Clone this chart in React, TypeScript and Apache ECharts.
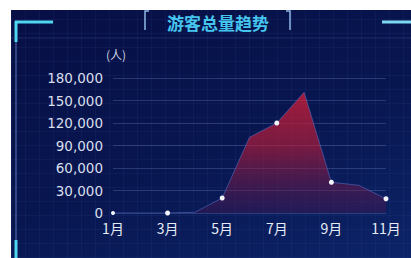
import React, { useEffect, useRef } from "react";
import * as echarts from "echarts";

const months = ["1月", "2月", "3月", "4月", "5月", "6月", "7月", "8月", "9月", "10月", "11月"];
const visitors = [0, 0, 0, 1000, 20000, 101000, 120000, 161000, 41000, 37000, 19000];
const yTicks = { min: 0, max: 180000, interval: 30000 };
const titleText = "游客总量趋势";
const unitText = "(人)";

export default function App() {
  const ref = useRef<HTMLDivElement>(null);
  useEffect(() => {
    if (!ref.current) return;
    const chart = echarts.init(ref.current, undefined, { renderer: "svg" });
    const cyan = "#4fd6f0";
    chart.setOption({
      animation: false,
      backgroundColor: "transparent",
      grid: { left: 113, right: 25, top: 78, bottom: 45 },
      graphic: [
        { type: "line", shape: { x1: 16, y1: 22, x2: 16, y2: 258 }, style: { stroke: "rgba(110,140,210,0.55)", lineWidth: 1.5 } },
        { type: "line", shape: { x1: 15, y1: 22, x2: 53, y2: 22 }, style: { stroke: cyan, lineWidth: 3 } },
        { type: "line", shape: { x1: 16, y1: 21, x2: 16, y2: 42 }, style: { stroke: cyan, lineWidth: 3 } },
        { type: "line", shape: { x1: 382, y1: 22, x2: 411, y2: 22 }, style: { stroke: "#7fd8f2", lineWidth: 3 } },
        { type: "line", shape: { x1: 16, y1: 240, x2: 16, y2: 258 }, style: { stroke: cyan, lineWidth: 3 } },
        { type: "line", shape: { x1: 11, y1: 38, x2: 411, y2: 38 }, style: { stroke: "rgba(90,110,190,0.25)", lineWidth: 1 } },
        { type: "polyline", shape: { points: [[149, 11], [145, 11], [145, 30]] }, style: { stroke: "#8fb8e8", lineWidth: 1.5, fill: null } },
        { type: "polyline", shape: { points: [[286, 11], [290, 11], [290, 30]] }, style: { stroke: "#8fb8e8", lineWidth: 1.5, fill: null } },
        {
          type: "text",
          x: 218,
          y: 22,
          style: {
            text: titleText,
            fill: "#45c4ee",
            font: "bold 17px 'Noto Sans CJK SC'",
            textAlign: "center",
            textVerticalAlign: "middle",
          },
        },
      ],
      xAxis: {
        type: "category",
        data: months,
        boundaryGap: false,
        axisLine: { show: false },
        axisTick: { show: false },
        axisLabel: { interval: 1, color: "#e6ecf5", fontSize: 14, margin: 8, fontFamily: "'Noto Sans CJK SC'" },
        splitLine: { show: false },
      },
      yAxis: {
        type: "value",
        min: yTicks.min,
        max: yTicks.max,
        interval: yTicks.interval,
        name: unitText,
        nameGap: 18,
        nameTextStyle: { color: "#c8d0e0", fontSize: 12, align: "center", padding: [0, 0, 0, 6], fontFamily: "'Noto Sans CJK SC'" },
        axisLine: { show: false },
        axisTick: { show: false },
        axisLabel: {
          color: "#d8dfec",
          fontSize: 13.5,
          margin: 10,
          fontFamily: "'DejaVu Sans', sans-serif",
          formatter: (v: number) => v.toLocaleString("en-US"),
        },
        splitLine: { lineStyle: { color: "rgba(130,150,210,0.28)", width: 1 } },
      },
      series: [
        {
          type: "line",
          data: visitors,
          showAllSymbol: true,
          symbol: "circle",
          symbolSize: (_v: number, p: any) => (p.dataIndex % 2 === 0 ? (p.dataIndex === 0 ? 4 : 5) : 0),
          itemStyle: { color: "#f2f4fa" },
          lineStyle: { color: "rgba(85,115,200,0.55)", width: 1 },
          areaStyle: {
            color: new echarts.graphic.LinearGradient(0, 0, 0, 1, [
              { offset: 0, color: "rgba(228,30,52,1)" },
              { offset: 0.45, color: "rgba(185,28,55,0.9)" },
              { offset: 1, color: "rgba(70,22,80,0.55)" },
            ]),
          },
        },
      ],
    });
    return () => chart.dispose();
  }, []);

  const panelBg =
    "repeating-linear-gradient(90deg, rgba(60,90,170,0.10) 0 1px, transparent 1px 14px)," +
    "repeating-linear-gradient(0deg, rgba(60,90,170,0.10) 0 1px, transparent 1px 14px)," +
    "linear-gradient(160deg, #070f45 0%, #081650 55%, #0c2468 100%)";

  return (
    <div style={{ position: "absolute", left: 0, top: 0, width: 411, height: 258, background: "#fff" }}>
      <div style={{ position: "absolute", left: 11, top: 10, width: 400, height: 248, background: panelBg }} />
      <div ref={ref} style={{ position: "absolute", left: 0, top: 0, width: 411, height: 258 }} />
    </div>
  );
}
